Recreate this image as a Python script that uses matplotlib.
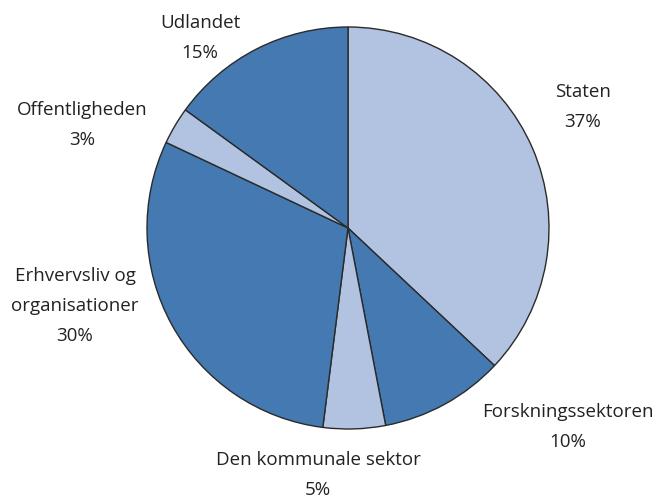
import matplotlib.pyplot as plt

# Data
labels = ['Staten', 'Forskningssektoren', 'Den kommunale sektor',
          'Erhvervsliv og\norganisationer', 'Offentligheden', 'Udlandet']
shares = [37, 10, 5, 30, 3, 15]
colors = ['#b1c3e0', '#4479b2', '#b1c3e0', '#4479b2', '#b1c3e0', '#4479b2']

# label anchor points in pixel coordinates (x, y from top)
label_pos = [(583, 107), (568, 427), (318, 475), (75, 306), (82, 125), (200, 38)]

plt.rcParams['font.family'] = ['Open Sans', 'DejaVu Sans']

fig = plt.figure(figsize=(6.55, 5), dpi=100)
ax = fig.add_axes([0, 0, 1, 1])

ax.pie(shares, colors=colors, startangle=90, counterclock=False,
       center=(348, 272), radius=201, frame=True,
       wedgeprops={'edgecolor': '#2a2a2a', 'linewidth': 1.0})
ax.set_xlim(0, 655)
ax.set_ylim(0, 500)
ax.set_aspect('auto')
ax.axis('off')

for lab, val, (px, py) in zip(labels, shares, label_pos):
    ax.text(px, 500 - py, lab + '\n' + str(val) + '%', ha='center', va='center',
            fontsize=13.5, color='#222222', linespacing=1.85)

fig.savefig('out.png', dpi=100)
